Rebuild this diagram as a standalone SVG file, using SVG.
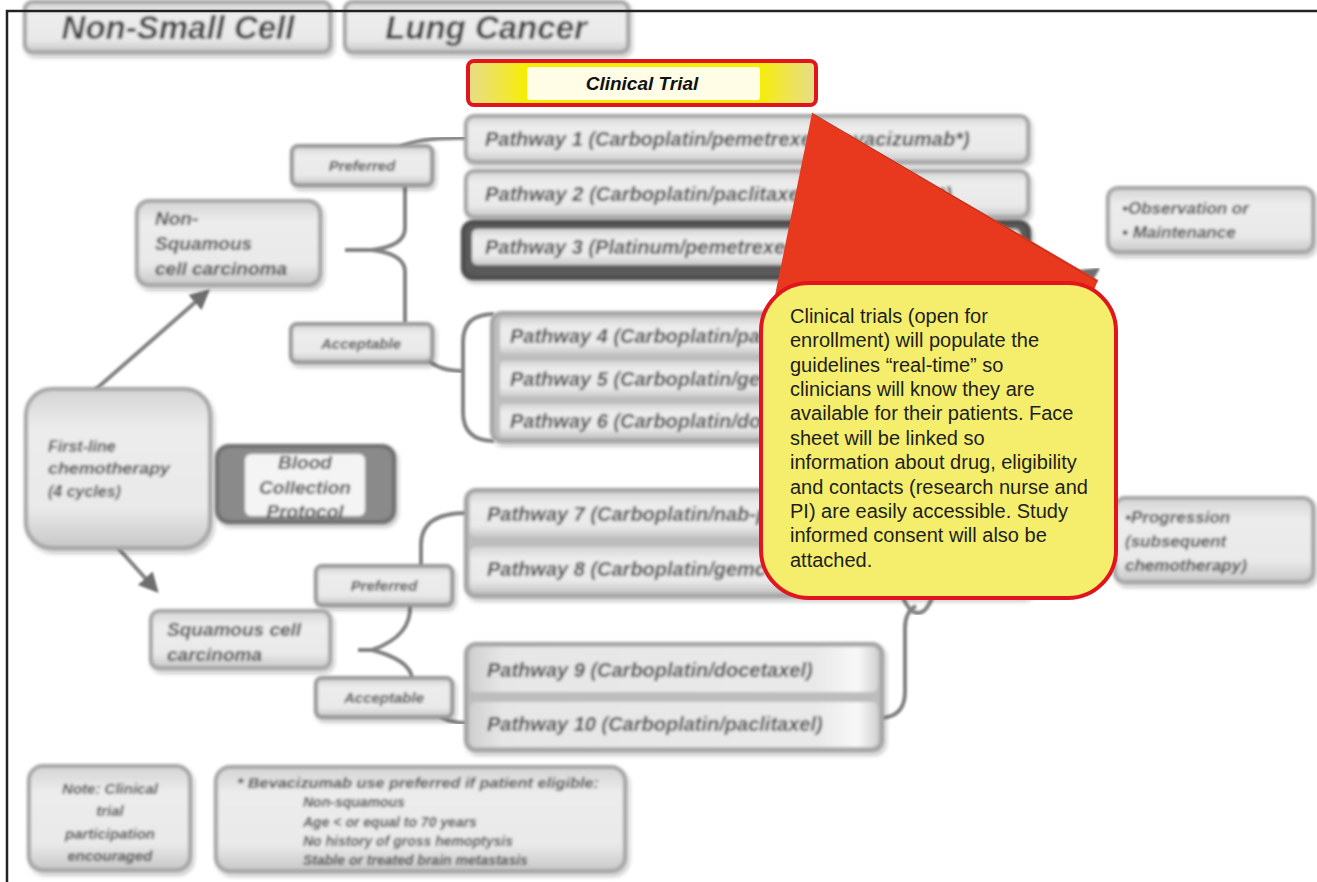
<svg xmlns="http://www.w3.org/2000/svg" width="1317" height="882" viewBox="0 0 1317 882">
<style>
.n{filter:url(#fx)}
.box{fill:url(#gv);stroke:#a5a5a5;stroke-width:4}
.lbl{fill:url(#gv);stroke:#969696;stroke-width:4}
.t{font-family:"Liberation Sans",Arial,sans-serif;font-weight:bold;font-style:italic;fill:#404040}
.pw{font-size:20px}
.sm{font-size:15px}
.md{font-size:19px}
.c{text-anchor:middle}
.con{fill:none;stroke:#828282;stroke-width:4;filter:url(#bl)}
.call{font-family:"Liberation Sans",Arial,sans-serif;font-size:20px;fill:#1e1e1e}
</style>
<defs>
<linearGradient id="gv" x1="0" y1="0" x2="0" y2="1">
<stop offset="0" stop-color="#d4d4d4"/><stop offset="0.25" stop-color="#ececec"/><stop offset="0.75" stop-color="#e9e9e9"/><stop offset="1" stop-color="#c7c7c7"/>
</linearGradient>
<linearGradient id="gh" x1="0" y1="0" x2="1" y2="0">
<stop offset="0" stop-color="#d0d0d0"/><stop offset="0.08" stop-color="#e6e6e6"/><stop offset="0.85" stop-color="#e9e9e9"/><stop offset="0.95" stop-color="#f8f8f8"/><stop offset="1" stop-color="#d2d2d2"/>
</linearGradient>
<linearGradient id="gy" x1="0" y1="0" x2="1" y2="0">
<stop offset="0" stop-color="#e6dd8a"/><stop offset="0.1" stop-color="#f0e640"/><stop offset="0.17" stop-color="#f6ee00"/><stop offset="0.83" stop-color="#f6ee00"/><stop offset="0.9" stop-color="#f0e640"/><stop offset="1" stop-color="#e6dd8a"/>
</linearGradient>
<filter id="fx" x="-10%" y="-20%" width="120%" height="150%">
<feGaussianBlur in="SourceGraphic" stdDeviation="1.4" result="b"/>
<feOffset in="SourceAlpha" dx="2" dy="3"/><feGaussianBlur stdDeviation="2.5"/>
<feComponentTransfer><feFuncA type="linear" slope="0.3"/></feComponentTransfer>
<feMerge><feMergeNode/><feMergeNode in="b"/></feMerge>
</filter>
<filter id="bl" x="-10%" y="-10%" width="120%" height="120%"><feGaussianBlur stdDeviation="1.2"/></filter>
<marker id="ah" viewBox="0 0 10 10" refX="8" refY="5" markerWidth="5" markerHeight="5" orient="auto" markerUnits="strokeWidth">
<path d="M0,0 L10,5 L0,10 z" fill="#6e6e6e"/>
</marker>
</defs>
<rect width="1317" height="882" fill="#ffffff"/>

<g id="title-nsc" class="n"><rect x="25" y="2" width="305" height="50" rx="7" class="box"/><text x="178" y="39" class="t c" font-size="33" fill="#383838">Non-Small Cell</text></g>
<g id="title-lung" class="n"><rect x="345" y="2" width="283" height="50" rx="7" class="box"/><text x="486" y="39" class="t c" font-size="33" fill="#383838">Lung Cancer</text></g>

<g id="connectors">
<path class="con" d="M400 147 Q420 137 466 138"/>
<path class="con" d="M405 186 L405 228 Q405 246 372 250 M345 250 L372 250 Q405 254 405 272 L405 323"/>
<path class="con" d="M428 360 Q440 371 463 371"/>
<path class="con" d="M494 314 Q463 314 463 342 L463 412 Q463 441 494 441"/>
<path class="con" d="M95 390 L207 292" marker-end="url(#ah)"/>
<path class="con" d="M118 548 L156 590" marker-end="url(#ah)"/>
<path class="con" d="M421 566 L421 545 Q421 513 466 513"/>
<path class="con" d="M410 605 Q412 636 372 650 M358 650 L372 650 Q410 660 412 678"/>
<path class="con" d="M440 716 Q450 723 466 723"/>
<path class="con" d="M882 718 Q905 716 905 692 L905 628 Q905 612 916 606"/>
<path class="con" d="M903 598 Q910 613 918 613 Q926 613 932 598"/>
<path class="con" d="M1070 287 L1097 270" marker-end="url(#ah)"/>
</g>

<g id="pathway1" class="n"><rect x="466" y="116" width="562" height="46" rx="8" class="box"/><text x="485" y="146" class="t pw">Pathway 1 (Carboplatin/pemetrexed/bevacizumab*)</text></g>
<g id="pathway2" class="n"><rect x="466" y="171" width="562" height="46" rx="8" class="box"/><text x="485" y="201" class="t pw" textLength="467" lengthAdjust="spacingAndGlyphs">Pathway 2 (Carboplatin/paclitaxel/bevacizumab*)</text></g>
<g id="pathway3" class="n"><rect x="463" y="222" width="566" height="56" rx="10" fill="#5a5a5a" stroke="#4a4a4a" stroke-width="4"/><rect x="472" y="229" width="548" height="36" rx="5" fill="url(#gv)"/><text x="485" y="254" class="t pw">Pathway 3 (Platinum/pemetrexed/bevacizumab*)</text></g>

<g id="preferred-ns" class="n"><rect x="292" y="146" width="140" height="39" rx="6" class="lbl"/><text x="362" y="171" class="t sm c">Preferred</text></g>
<g id="acceptable-ns" class="n"><rect x="291" y="324" width="141" height="38" rx="6" class="lbl"/><text x="361" y="349" class="t sm c">Acceptable</text></g>
<g id="nonsquamous" class="n"><rect x="137" y="201" width="183" height="84" rx="12" class="box"/><text class="t md"><tspan x="155" y="225">Non-</tspan><tspan x="155" y="250">Squamous</tspan><tspan x="155" y="275">cell carcinoma</tspan></text></g>

<g id="pathways4-6" class="n">
<rect x="492" y="313" width="540" height="128" rx="10" fill="#bdbdbd" stroke="#a3a3a3" stroke-width="4"/>
<rect x="500" y="318" width="530" height="36" rx="4" fill="url(#gv)"/>
<rect x="500" y="361" width="530" height="36" rx="4" fill="url(#gv)"/>
<rect x="500" y="404" width="530" height="33" rx="4" fill="url(#gv)"/>
<text x="510" y="343" class="t pw">Pathway 4 (Carboplatin/pa</text>
<text x="510" y="386" class="t pw">Pathway 5 (Carboplatin/ge</text>
<text x="510" y="428" class="t pw">Pathway 6 (Carboplatin/do</text>
</g>

<g id="observation" class="n"><rect x="1108" y="188" width="205" height="64" rx="10" class="box"/><text class="t" font-size="17"><tspan x="1122" y="214">•Observation or</tspan><tspan x="1122" y="238">• Maintenance</tspan></text></g>

<g id="firstline" class="n"><rect x="26" y="389" width="184" height="159" rx="26" class="box"/><text class="t" font-size="16"><tspan x="48" y="452">First-line</tspan><tspan x="48" y="474" textLength="122" lengthAdjust="spacingAndGlyphs">chemotherapy</tspan><tspan x="48" y="497">(4 cycles)</tspan></text></g>

<g id="blood" class="n"><rect x="217" y="446" width="177" height="76" rx="12" fill="#8a8a8a" stroke="#6e6e6e" stroke-width="4"/><rect x="245" y="454" width="120" height="62" rx="6" fill="#f4f4f4"/><text class="t c" font-size="19" font-style="normal" fill="#3a3a3a"><tspan x="305" y="469">Blood</tspan><tspan x="305" y="494">Collection</tspan><tspan x="305" y="518" font-style="italic">Protocol</tspan></text></g>

<g id="pathways7-8" class="n">
<rect x="466" y="490" width="566" height="106" rx="10" fill="#bdbdbd" stroke="#a3a3a3" stroke-width="4"/>
<rect x="470" y="493" width="558" height="44" rx="6" fill="url(#gv)"/>
<rect x="470" y="547" width="558" height="45" rx="6" fill="url(#gv)"/>
<text x="487" y="521" class="t pw">Pathway 7 (Carboplatin/nab-pa</text>
<text x="487" y="576" class="t pw">Pathway 8 (Carboplatin/gemc</text>
</g>

<g id="progression" class="n"><rect x="1115" y="498" width="198" height="84" rx="10" class="box"/><text class="t" font-size="17"><tspan x="1125" y="523">•Progression</tspan><tspan x="1125" y="547">(subsequent</tspan><tspan x="1125" y="571">chemotherapy)</tspan></text></g>

<g id="preferred-sq" class="n"><rect x="316" y="566" width="136" height="39" rx="6" class="lbl"/><text x="384" y="591" class="t sm c">Preferred</text></g>
<g id="squamous" class="n"><rect x="151" y="611" width="179" height="57" rx="8" class="box"/><text class="t md"><tspan x="167" y="636">Squamous cell</tspan><tspan x="167" y="661">carcinoma</tspan></text></g>
<g id="acceptable-sq" class="n"><rect x="316" y="678" width="136" height="39" rx="6" class="lbl"/><text x="384" y="703" class="t sm c">Acceptable</text></g>

<g id="pathways9-10" class="n">
<rect x="466" y="644" width="416" height="106" rx="10" fill="#bdbdbd" stroke="#a3a3a3" stroke-width="4"/>
<rect x="470" y="647" width="408" height="45" rx="6" fill="url(#gh)"/>
<rect x="470" y="702" width="408" height="45" rx="6" fill="url(#gh)"/>
<text x="487" y="677" class="t pw">Pathway 9 (Carboplatin/docetaxel)</text>
<text x="487" y="731" class="t pw">Pathway 10 (Carboplatin/paclitaxel)</text>
</g>

<g id="note" class="n"><rect x="29" y="766" width="161" height="104" rx="14" class="box"/><text class="t c" font-size="15"><tspan x="110" y="794">Note: Clinical</tspan><tspan x="110" y="816">trial</tspan><tspan x="110" y="839">participation</tspan><tspan x="110" y="861">encouraged</tspan></text></g>

<g id="bevacizumab-note" class="n"><rect x="216" y="767" width="409" height="104" rx="14" class="box"/><text class="t" font-size="14"><tspan x="237" y="788" textLength="362" lengthAdjust="spacingAndGlyphs">* Bevacizumab use preferred if patient eligible:</tspan><tspan x="303" y="807">Non-squamous</tspan><tspan x="303" y="827">Age &lt; or equal to 70 years</tspan><tspan x="303" y="846">No history of gross hemoptysis</tspan><tspan x="303" y="865">Stable or treated brain metastasis</tspan></text></g>

<g id="clinical-trial">
<rect x="468" y="61" width="348" height="44" rx="6" fill="url(#gy)" stroke="#e2141d" stroke-width="4"/>
<rect x="527" y="67" width="233" height="33" rx="3" fill="#fffde6"/>
<text x="642" y="90" font-family="Liberation Sans, Arial, sans-serif" font-size="19" font-weight="bold" font-style="italic" text-anchor="middle" fill="#111">Clinical Trial</text>
</g>

<g id="callout">
<path d="M812 113 L1098 280 L1090 300 L780 330 L768 330 Z" fill="#e8391f"/>
<rect x="761" y="283" width="355" height="315" rx="48" fill="#f4ee6c" stroke="#e2141d" stroke-width="4"/>
<path d="M812 113 L1098 282" fill="none" stroke="#7a3020" stroke-width="1" opacity="0.5"/>
<text class="call"><tspan x="790" y="323">Clinical trials (open for</tspan><tspan x="790" y="347">enrollment) will populate the</tspan><tspan x="790" y="372">guidelines “real-time” so</tspan><tspan x="790" y="396">clinicians will know they are</tspan><tspan x="790" y="420">available for their patients. Face</tspan><tspan x="790" y="445">sheet will be linked so</tspan><tspan x="790" y="469">information about drug, eligibility</tspan><tspan x="790" y="494">and contacts (research nurse and</tspan><tspan x="790" y="518">PI) are easily accessible.  Study</tspan><tspan x="790" y="542">informed consent will also be</tspan><tspan x="790" y="567">attached.</tspan></text>
</g>

<g id="frame" fill="none" stroke="#222" stroke-width="2.5">
<path d="M7 882 L7 11 L1317 11"/>
</g>
</svg>
